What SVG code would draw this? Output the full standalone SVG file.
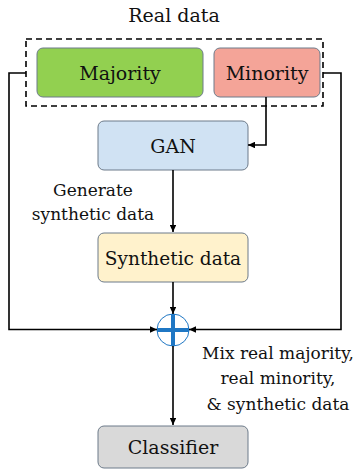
<svg xmlns="http://www.w3.org/2000/svg" width="355" height="471" viewBox="0 0 355 471">
<style>
.box{stroke:#6d7b8a;stroke-width:1}
.c{fill:none;stroke:#000;stroke-width:1.6}
</style>
<defs>
<marker id="a" viewBox="0 0 10 10" refX="10" refY="5" markerWidth="7" markerHeight="6.5" orient="auto" markerUnits="userSpaceOnUse" preserveAspectRatio="none">
<path d="M0,0 L10,5 L0,10 z" fill="#000"/>
</marker>
</defs>
<g fill="#111" text-anchor="middle" font-family="'DejaVu Serif', serif" font-size="19">
<g id="realdata">
<text x="174" y="22">Real data</text>
<rect x="26" y="39" width="297" height="67" fill="none" stroke="#000" stroke-width="1.6" stroke-dasharray="6,4"/>
</g>
<g id="majority">
<rect class="box" x="37" y="48" width="166" height="49" rx="6" fill="#92d050"/>
<text x="120" y="80">Majority</text>
</g>
<g id="minority">
<rect class="box" x="214" y="48" width="106" height="49" rx="6" fill="#f4a498"/>
<text x="267" y="80">Minority</text>
</g>
<g id="gan">
<rect class="box" x="98" y="121" width="150" height="49" rx="6" fill="#d0e2f3"/>
<text x="173" y="153">GAN</text>
</g>
<g id="synthetic">
<rect class="box" x="98" y="233" width="150" height="49" rx="6" fill="#fff2cc"/>
<text x="173" y="265" font-size="18.5">Synthetic data</text>
</g>
<g id="mix">
<circle cx="173" cy="330" r="16" fill="#fff" stroke="#1f77c4" stroke-width="1"/>
<line x1="157" y1="330" x2="189" y2="330" stroke="#1f77c4" stroke-width="4"/>
<line x1="173" y1="314" x2="173" y2="346" stroke="#1f77c4" stroke-width="4"/>
</g>
<g id="classifier">
<rect class="box" x="98" y="426" width="150" height="42" rx="6" fill="#d9d9d9"/>
<text x="173" y="454">Classifier</text>
</g>
<g id="connectors">
<path class="c" d="M26,73 H9 V329.5 H157" marker-end="url(#a)"/>
<path class="c" d="M323,73 H341 V329.5 H189" marker-end="url(#a)"/>
<path class="c" d="M266,97 V145 H248" marker-end="url(#a)"/>
<path class="c" d="M173,170 V232" marker-end="url(#a)"/>
<path class="c" d="M173,282 V314" marker-end="url(#a)"/>
<path class="c" d="M173,346 V425" marker-end="url(#a)"/>
</g>
<g id="labels" font-size="17">
<text x="93" y="196">Generate</text>
<text x="93" y="220">synthetic data</text>
<text x="278" y="359">Mix real majority,</text>
<text x="278" y="384">real minority,</text>
<text x="278" y="410">&amp; synthetic data</text>
</g>
</g>
</svg>
